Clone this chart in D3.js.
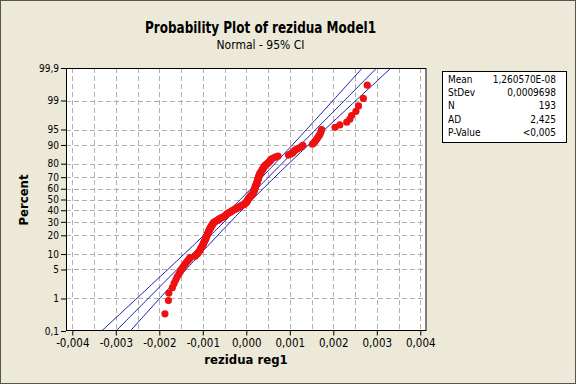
<!DOCTYPE html>
<html>
<head>
<meta charset="utf-8">
<script src="https://cdn.jsdelivr.net/npm/d3@7"></script>
<style>
  body { margin: 0; background: #ece9d8; }
  text { font-family: "DejaVu Sans Condensed", "DejaVu Sans", sans-serif; fill: #000; }
</style>
</head>
<body>
<svg id="chart" width="576" height="384"></svg>
<script>
// sorted residuals
const rezidua = [
  -0.00187, -0.00179, -0.00178, -0.00170, -0.00166, -0.00162, -0.00159, -0.00155, -0.00152, -0.00149,
  -0.00146, -0.00143, -0.00140, -0.00137, -0.00134, -0.00131, -0.00129, -0.00118, -0.00115, -0.00112,
  -0.00110, -0.00108, -0.00106, -0.00105, -0.00104, -0.00102, -0.00101, -0.00100, -0.00099, -0.00098,
  -0.00097, -0.00096, -0.00095, -0.00094, -0.00093, -0.00093, -0.00092, -0.00091, -0.00090, -0.00090,
  -0.00089, -0.00088, -0.00087, -0.00087, -0.00086, -0.00085, -0.00084, -0.00083, -0.00083, -0.00082,
  -0.00081, -0.00080, -0.00079, -0.00078, -0.00077, -0.00076, -0.00075, -0.00074, -0.00071, -0.00068,
  -0.00066, -0.00064, -0.00062, -0.00059, -0.00057, -0.00054, -0.00051, -0.00049, -0.00047, -0.00046,
  -0.00045, -0.00043, -0.00041, -0.00038, -0.00036, -0.00034, -0.00032, -0.00030, -0.00027, -0.00025,
  -0.00022, -0.00020, -0.00017, -0.00015, -0.00013, -0.00011, -0.00009, -0.00006, -0.00004, -0.00002,
  -0.00001, 0.00000, 0.00001, 0.00002, 0.000025, 0.00003, 0.00004, 0.00005, 0.000055, 0.000065,
  0.000075, 0.000085, 0.000095, 0.000105, 0.00012, 0.00013, 0.000145, 0.000155, 0.00016, 0.000165,
  0.00017, 0.000175, 0.00018, 0.000185, 0.00019, 0.000195, 0.000197, 0.00020, 0.000205, 0.00021,
  0.000215, 0.00022, 0.000225, 0.00023, 0.000235, 0.00024, 0.000245, 0.00025, 0.000255, 0.00026,
  0.000262, 0.000265, 0.00027, 0.000275, 0.00028, 0.000285, 0.00029, 0.000295, 0.00030, 0.000305,
  0.00031, 0.00032, 0.00033, 0.00034, 0.00035, 0.00036, 0.00037, 0.00038, 0.00039, 0.00040,
  0.00041, 0.00042, 0.00043, 0.00045, 0.00048, 0.00050, 0.00052, 0.00054, 0.00055, 0.00057,
  0.00058, 0.00063, 0.00068, 0.00073, 0.00097, 0.00101, 0.00105, 0.00108, 0.00110, 0.00112,
  0.00117, 0.00122, 0.00127, 0.00130, 0.00152, 0.00155, 0.00158, 0.00160, 0.00163, 0.00165,
  0.00168, 0.00170, 0.00172, 0.00173, 0.00204, 0.00215, 0.00231, 0.00238, 0.00242, 0.00252,
  0.00258, 0.00269, 0.00278
];

const percentTicks = [0.1, 1, 5, 10, 20, 30, 40, 50, 60, 70, 80, 90, 95, 99, 99.9];
const xTicks = [-0.004, -0.003, -0.002, -0.001, 0, 0.001, 0.002, 0.003, 0.004];
const xGrid = [-0.004, -0.0035, -0.003, -0.0025, -0.002, -0.0015, -0.001, -0.0005, 0,
  0.0005, 0.001, 0.0015, 0.002, 0.0025, 0.003, 0.0035, 0.004];

const statLabels = ['Mean', 'StDev', 'N', 'AD', 'P-Value'];
const statValues = ['1,260570E-08', '0,0009698', '193', '2,425', '<0,005'];

const fitMean = 1.260570e-8;
const fitStDev = 0.0009698;

// inverse normal cdf (Acklam)
function probit(p) {
  const a = [-39.69683028665376, 220.9460984245205, -275.9285104469687, 138.3577518672690, -30.66479806614716, 2.506628277459239];
  const b = [-54.47609879822406, 161.5858368580409, -155.6989798598866, 66.80131188771972, -13.28068155288572];
  const c = [-0.007784894002430293, -0.3223964580411365, -2.400758277161838, -2.549732539343734, 4.374664141464968, 2.938163982698783];
  const d = [0.007784695709041462, 0.3224671290700398, 2.445134137142996, 3.754408661907416];
  const pl = 0.02425;
  let q, r;
  if (p < pl) {
    q = Math.sqrt(-2 * Math.log(p));
    return (((((c[0]*q+c[1])*q+c[2])*q+c[3])*q+c[4])*q+c[5]) / ((((d[0]*q+d[1])*q+d[2])*q+d[3])*q+1);
  }
  if (p > 1 - pl) {
    q = Math.sqrt(-2 * Math.log(1 - p));
    return -(((((c[0]*q+c[1])*q+c[2])*q+c[3])*q+c[4])*q+c[5]) / ((((d[0]*q+d[1])*q+d[2])*q+d[3])*q+1);
  }
  q = p - 0.5; r = q * q;
  return (((((a[0]*r+a[1])*r+a[2])*r+a[3])*r+a[4])*r+a[5])*q / (((((b[0]*r+b[1])*r+b[2])*r+b[3])*r+b[4])*r+1);
}

const svg = d3.select('#chart');
const W = 576, H = 384;
const plot = { left: 66, right: 426.5, top: 68, bottom: 331 };

svg.append('rect').attr('x', 0.5).attr('y', 0.5).attr('width', W - 1).attr('height', H - 1)
  .attr('fill', '#ece9d8').attr('stroke', '#555');

const x = d3.scaleLinear().domain([-0.004, 0.004]).range([72.3, 420.3]);
const y = d3.scaleLinear().domain([probit(0.001), probit(0.999)]).range([plot.bottom, plot.top]);

const comma = v => String(v).replace('.', ',');

// plot area
svg.append('rect')
  .attr('x', plot.left).attr('y', plot.top)
  .attr('width', plot.right - plot.left).attr('height', plot.bottom - plot.top)
  .attr('fill', '#fff');

svg.append('defs').append('clipPath').attr('id', 'clip')
  .append('rect')
  .attr('x', plot.left).attr('y', plot.top)
  .attr('width', plot.right - plot.left).attr('height', plot.bottom - plot.top);

// grid
const grid = svg.append('g').attr('stroke', '#b0b0b0').attr('stroke-dasharray', '5,3').attr('stroke-width', 1);
grid.selectAll('line.gx').data(xGrid).join('line')
  .attr('x1', d => Math.round(x(d)) + 0.5).attr('x2', d => Math.round(x(d)) + 0.5)
  .attr('y1', plot.top).attr('y2', plot.bottom);
grid.selectAll('line.gy').data(percentTicks.slice(1, -1)).join('line')
  .attr('y1', d => Math.round(y(probit(d / 100))) + 0.5).attr('y2', d => Math.round(y(probit(d / 100))) + 0.5)
  .attr('x1', plot.left).attr('x2', plot.right);

// fitted line and 95% CI
const n = rezidua.length;
const zs = d3.range(-3.6, 3.61, 0.05);
const lineGen = d3.line().x(d => x(d[0])).y(d => y(d[1]));
const half = z => 1.96 * fitStDev * Math.sqrt(1 / n + z * z / (2 * (n - 1)));
const fitG = svg.append('g').attr('clip-path', 'url(#clip)')
  .attr('fill', 'none').attr('stroke', '#1a1aa6').attr('stroke-width', 1);
fitG.append('path').attr('d', lineGen(zs.map(z => [fitMean + fitStDev * z, z])));
fitG.append('path').attr('d', lineGen(zs.map(z => [fitMean + fitStDev * z - half(z), z])));
fitG.append('path').attr('d', lineGen(zs.map(z => [fitMean + fitStDev * z + half(z), z])));

// points (median ranks)
svg.append('g').attr('clip-path', 'url(#clip)')
  .selectAll('circle').data(rezidua).join('circle')
  .attr('cx', d => x(d))
  .attr('cy', (d, i) => y(probit((i + 1 - 0.3) / (n + 0.4))))
  .attr('r', 3.6)
  .attr('fill', '#ee1111');

// border
svg.append('rect')
  .attr('x', plot.left + 0.5).attr('y', plot.top + 0.5)
  .attr('width', plot.right - plot.left - 1).attr('height', plot.bottom - plot.top - 1)
  .attr('fill', 'none').attr('stroke', '#000');

// axes
const yAxis = svg.append('g').attr('transform', `translate(${plot.left},0)`)
  .call(d3.axisLeft(y).tickValues(percentTicks.map(p => probit(p / 100)))
    .tickFormat((d, i) => comma(percentTicks[i])).tickSize(5).tickPadding(2));
yAxis.select('.domain').remove();
yAxis.selectAll('text').style('font-size', '10px').style('font-family', '"DejaVu Sans Condensed", "DejaVu Sans", sans-serif');

const xAxis = svg.append('g').attr('transform', `translate(0,${plot.bottom - 0.5})`)
  .call(d3.axisBottom(x).tickValues(xTicks)
    .tickFormat(d => comma(d3.format('.3f')(d)).replace('−', '-')).tickSize(5).tickPadding(3));
xAxis.select('.domain').remove();
xAxis.selectAll('text').style('font-size', '11.5px').style('font-family', '"DejaVu Sans Condensed", "DejaVu Sans", sans-serif');

// titles
svg.append('text').attr('x', 260.5).attr('y', 33).attr('text-anchor', 'middle')
  .attr('textLength', 231).attr('lengthAdjust', 'spacingAndGlyphs')
  .style('font-size', '15px').style('font-weight', 'bold').text('Probability Plot of rezidua Model1');
svg.append('text').attr('x', 260.5).attr('y', 48.5).attr('text-anchor', 'middle')
  .style('font-size', '12px').text('Normal - 95% CI');
svg.append('text').attr('x', 246).attr('y', 364).attr('text-anchor', 'middle')
  .style('font-size', '13px').style('font-weight', 'bold').text('rezidua reg1');
svg.append('text').attr('transform', 'translate(28,200) rotate(-90)').attr('text-anchor', 'middle')
  .style('font-size', '13px').style('font-weight', 'bold').text('Percent');

// stats box
svg.append('rect').attr('x', 442.5).attr('y', 71.5).attr('width', 124).attr('height', 71)
  .attr('fill', '#fff').attr('stroke', '#000');
const rowY = d3.scaleLinear().domain([0, 4]).range([82.5, 136]);
svg.append('g').selectAll('text').data(statLabels).join('text')
  .attr('x', 448).attr('y', (d, i) => rowY(i))
  .style('font-size', '10px').text(d => d);
svg.append('g').selectAll('text').data(statValues).join('text')
  .attr('x', 556).attr('y', (d, i) => rowY(i)).attr('text-anchor', 'end')
  .style('font-size', '10px').text(d => d);
</script>
</body>
</html>
